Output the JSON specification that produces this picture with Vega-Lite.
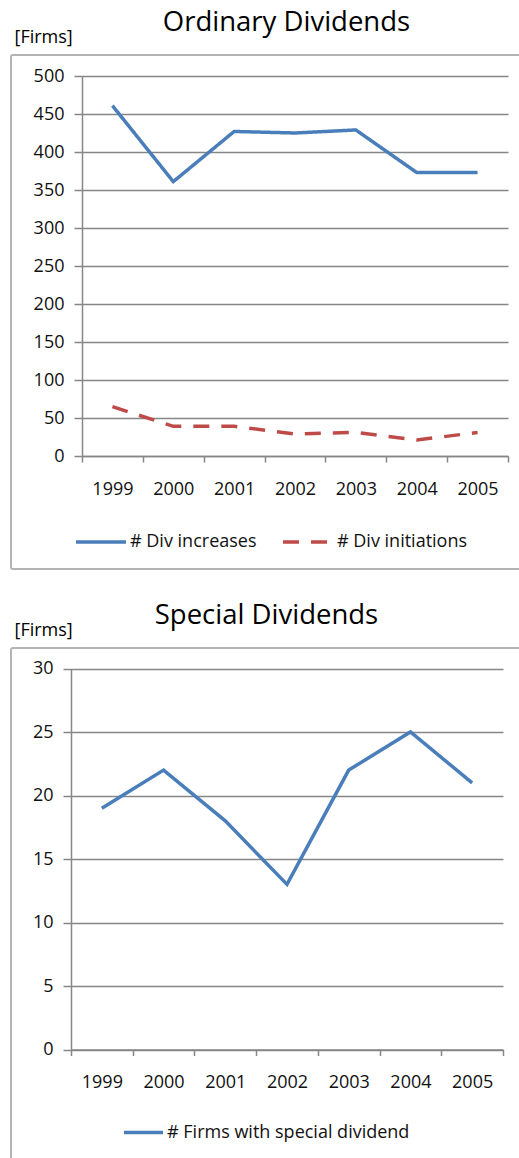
{
  "$schema": "https://vega.github.io/schema/vega-lite/v6.json",
  "padding": {"left": 10, "top": 7, "right": 0, "bottom": 0},
  "spacing": 30,
  "resolve": {
    "scale": {"color": "independent", "strokeDash": "independent"},
    "legend": {"color": "independent", "strokeDash": "independent"}
  },
  "config": {
    "font": "Open Sans",
    "view": {"stroke": "#b4b4b4", "strokeWidth": 2, "cornerRadius": 2},
    "title": {"fontSize": 27.5, "fontWeight": "normal", "color": "#000000", "frame": "group", "anchor": "middle", "offset": -8},
    "axis": {
      "labelFont": "Open Sans",
      "labelFontSize": 18,
      "labelColor": "#111111",
      "domainColor": "#868686",
      "domainWidth": 1.5,
      "tickColor": "#868686",
      "tickWidth": 1.5,
      "gridColor": "#868686",
      "gridWidth": 1.3,
      "gridOpacity": 1
    },
    "axisX": {"grid": false, "labelAngle": 0, "tickBand": "extent", "tickSize": 6, "labelPadding": 18, "title": null},
    "axisY": {"grid": true, "tickSize": 8, "labelPadding": 10, "titleAngle": 0, "titleAlign": "left", "titleBaseline": "alphabetic", "titleFontSize": 18, "titleFontWeight": "normal", "titleColor": "#000000"},
    "legend": {
      "orient": "none",
      "direction": "horizontal",
      "symbolType": "stroke",
      "symbolSize": 2500,
      "symbolStrokeWidth": 3.5,
      "labelFontSize": 18,
      "labelColor": "#111111",
      "labelOffset": 2,
      "labelLimit": 500,
      "columnPadding": 19,
      "padding": 0,
      "title": null
    }
  },
  "datasets": {
    "ordinary": [
      {"year": "1999", "series": "# Div increases", "firms": 461},
      {"year": "2000", "series": "# Div increases", "firms": 361},
      {"year": "2001", "series": "# Div increases", "firms": 427},
      {"year": "2002", "series": "# Div increases", "firms": 425},
      {"year": "2003", "series": "# Div increases", "firms": 429},
      {"year": "2004", "series": "# Div increases", "firms": 373},
      {"year": "2005", "series": "# Div increases", "firms": 373},
      {"year": "1999", "series": "# Div initiations", "firms": 65},
      {"year": "2000", "series": "# Div initiations", "firms": 39},
      {"year": "2001", "series": "# Div initiations", "firms": 39},
      {"year": "2002", "series": "# Div initiations", "firms": 29},
      {"year": "2003", "series": "# Div initiations", "firms": 31},
      {"year": "2004", "series": "# Div initiations", "firms": 21},
      {"year": "2005", "series": "# Div initiations", "firms": 31}
    ],
    "special": [
      {"year": "1999", "series": "# Firms with special dividend", "firms": 19},
      {"year": "2000", "series": "# Firms with special dividend", "firms": 22},
      {"year": "2001", "series": "# Firms with special dividend", "firms": 18},
      {"year": "2002", "series": "# Firms with special dividend", "firms": 13},
      {"year": "2003", "series": "# Firms with special dividend", "firms": 22},
      {"year": "2004", "series": "# Firms with special dividend", "firms": 25},
      {"year": "2005", "series": "# Firms with special dividend", "firms": 21}
    ]
  },
  "vconcat": [
    {
      "title": {"text": "Ordinary Dividends", "dx": 20},
      "width": 511,
      "height": 514,
      "data": {"name": "ordinary"},
      "mark": {"type": "line", "strokeWidth": 3.5},
      "encoding": {
        "x": {
          "field": "year",
          "type": "ordinal",
          "scale": {"type": "band", "range": [71, 497], "paddingInner": 0, "paddingOuter": 0},
          "axis": {"offset": -113}
        },
        "y": {
          "field": "firms",
          "type": "quantitative",
          "scale": {"domain": [0, 500], "range": [401, 21], "nice": false},
          "axis": {"values": [0, 50, 100, 150, 200, 250, 300, 350, 400, 450, 500], "offset": -71, "title": "[Firms]", "titleX": -68, "titleY": -13}
        },
        "color": {
          "field": "series",
          "type": "nominal",
          "scale": {"domain": ["# Div increases", "# Div initiations"], "range": ["#4a7ebb", "#be4b48"]},
          "legend": {"legendX": 63, "legendY": 460}
        },
        "strokeDash": {
          "field": "series",
          "type": "nominal",
          "scale": {"domain": ["# Div increases", "# Div initiations"], "range": [[1, 0], [16, 12]]},
          "legend": {"legendX": 63, "legendY": 460}
        }
      }
    },
    {
      "title": {"text": "Special Dividends"},
      "width": 511,
      "height": 520,
      "data": {"name": "special"},
      "mark": {"type": "line", "strokeWidth": 3.5},
      "encoding": {
        "x": {
          "field": "year",
          "type": "ordinal",
          "scale": {"type": "band", "range": [60, 492], "paddingInner": 0, "paddingOuter": 0},
          "axis": {"offset": -118.5}
        },
        "y": {
          "field": "firms",
          "type": "quantitative",
          "scale": {"domain": [0, 30], "range": [401.5, 20.5], "nice": false},
          "axis": {"values": [0, 5, 10, 15, 20, 25, 30], "offset": -60, "title": "[Firms]", "titleX": -57, "titleY": -13}
        },
        "color": {
          "field": "series",
          "type": "nominal",
          "scale": {"domain": ["# Firms with special dividend"], "range": ["#4a7ebb"]},
          "legend": {"legendX": 111, "legendY": 463, "symbolSize": 1521}
        }
      }
    }
  ]
}
